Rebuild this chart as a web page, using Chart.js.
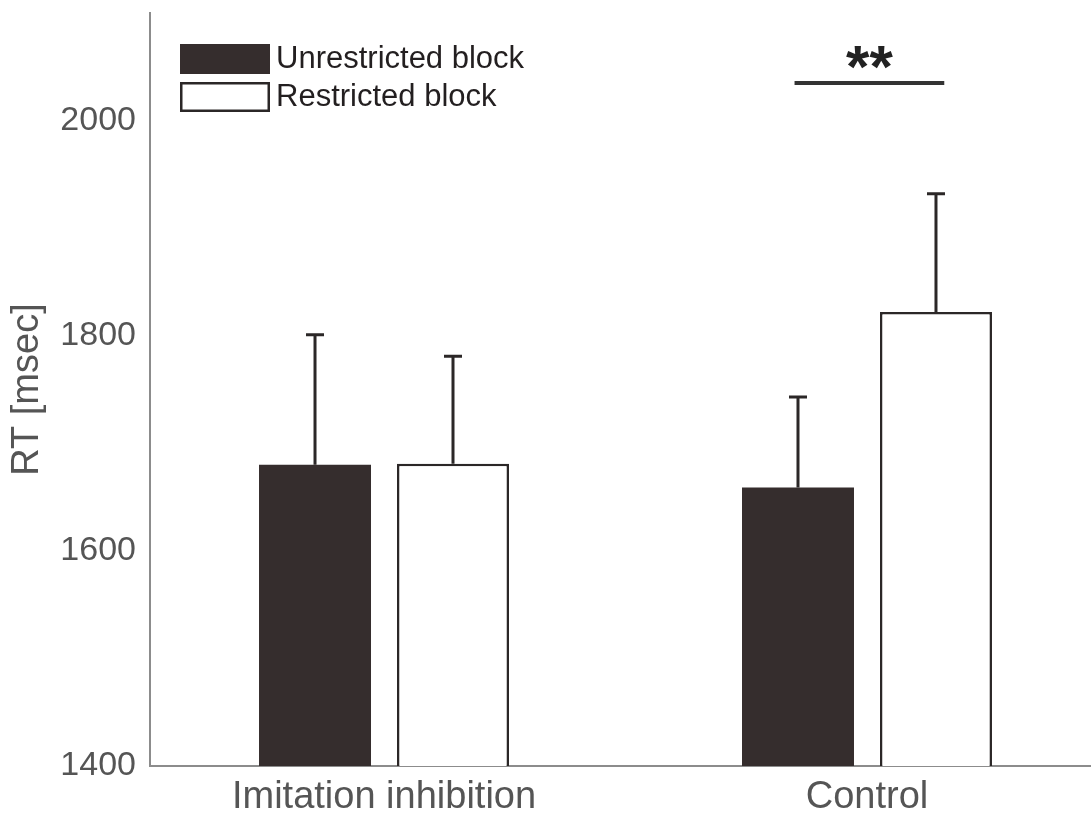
<!DOCTYPE html>
<html>
<head>
<meta charset="utf-8">
<script src="https://cdn.jsdelivr.net/npm/chart.js@4.4.1/dist/chart.umd.min.js"></script>
<style>
  html, body { margin: 0; padding: 0; background: #fff; }
  .chart-wrap { width: 1091px; height: 815px; }
</style>
</head>
<body>
<div class="chart-wrap"><canvas id="rtChart" width="1091" height="815"></canvas></div>
<script>
const categories = ['Imitation inhibition', 'Control'];
const seriesNames = ['Unrestricted block', 'Restricted block'];
const unrestrictedRT = [1680, 1659];
const unrestrictedErr = [121, 84];
const restrictedRT = [1681, 1822];
const restrictedErr = [100, 110];
const yTicks = [1400, 1600, 1800, 2000];
// significance marker over the Control pair
const sigSpan = [0.85, 1.16];
const sigLevel = 2035;
const sigLabel = '**';

const FONT = "'Liberation Sans', Arial, sans-serif";
const DARK = '#352d2d';
const INK = '#2b2727';

const errors = [unrestrictedErr, restrictedErr];

const toPoints = (values) => values.map((y, i) => ({ x: i, y }));

// upward error bars (mean + SE)
const errorBars = {
    id: 'errorBars',
    afterDatasetsDraw(chart) {
        const { ctx } = chart;
        const yScale = chart.scales.y;
        chart.data.datasets.forEach((ds, di) => {
            const meta = chart.getDatasetMeta(di);
            meta.data.forEach((bar, i) => {
                const top = yScale.getPixelForValue(ds.data[i].y + errors[di][i]);
                ctx.save();
                ctx.strokeStyle = INK;
                ctx.lineWidth = 3;
                ctx.beginPath();
                ctx.moveTo(bar.x, bar.y);
                ctx.lineTo(bar.x, top);
                ctx.moveTo(bar.x - 9, top);
                ctx.lineTo(bar.x + 9, top);
                ctx.stroke();
                ctx.restore();
            });
        });
    },
};

const significance = {
    id: 'significance',
    afterDraw(chart) {
        const { ctx } = chart;
        const x1 = chart.scales.x.getPixelForValue(sigSpan[0]);
        const x2 = chart.scales.x.getPixelForValue(sigSpan[1]);
        const y = chart.scales.y.getPixelForValue(sigLevel);
        ctx.save();
        ctx.strokeStyle = '#333';
        ctx.lineWidth = 4;
        ctx.beginPath();
        ctx.moveTo(x1, y);
        ctx.lineTo(x2, y);
        ctx.stroke();
        ctx.fillStyle = '#222';
        ctx.font = 'bold 60px ' + FONT;
        ctx.textAlign = 'center';
        ctx.textBaseline = 'alphabetic';
        ctx.fillText(sigLabel, (x1 + x2) / 2, y + 4);
        ctx.restore();
    },
};

// boxed legend in the top-left corner of the plot
const boxLegend = {
    id: 'boxLegend',
    afterDraw(chart) {
        const { ctx, chartArea } = chart;
        const left = chartArea.left + 30;
        const top = chartArea.top + 31;
        chart.data.datasets.forEach((ds, i) => {
            const y = top + i * 38;
            ctx.save();
            ctx.fillStyle = ds.backgroundColor;
            ctx.fillRect(left, y, 90, 30);
            if (ds.backgroundColor === '#ffffff') {
                ctx.strokeStyle = ds.borderColor;
                ctx.lineWidth = 2.5;
                ctx.strokeRect(left + 1.25, y + 1.25, 87.5, 27.5);
            }
            ctx.fillStyle = '#231f20';
            ctx.font = '31px ' + FONT;
            ctx.textBaseline = 'middle';
            ctx.textAlign = 'left';
            ctx.fillText(ds.label, left + 96, y + 15);
            ctx.restore();
        });
    },
};

const ctx = document.getElementById('rtChart').getContext('2d');

new Chart(ctx, {
    type: 'bar',
    data: {
        datasets: [
            {
                label: seriesNames[0],
                data: toPoints(unrestrictedRT),
                backgroundColor: DARK,
                borderWidth: 0,
            }, {
                label: seriesNames[1],
                data: toPoints(restrictedRT),
                backgroundColor: '#ffffff',
                borderColor: INK,
                borderWidth: 2.5,
                borderSkipped: false,
            },
        ],
    },
    options: {
        responsive: false,
        animation: false,
        categoryPercentage: 0.5714,
        barPercentage: 0.8116,
        layout: {
            autoPadding: false,
            padding: { top: 13, right: 0, bottom: 0, left: 0 },
        },
        plugins: {
            legend: { display: false },
            tooltip: { enabled: false },
        },
        scales: {
            x: {
                type: 'linear',
                offset: false,
                min: -0.4845,
                max: 1.4638,
                afterBuildTicks: (scale) => {
                    scale.ticks = categories.map((c, i) => ({ value: i }));
                },
                afterFit: (scale) => {
                    scale.height = 49;
                    scale.paddingLeft = 0;
                    scale.paddingRight = 0;
                },
                grid: { display: false, drawTicks: false },
                border: { display: true, color: '#8c8c8c', width: 2 },
                ticks: {
                    callback: (value) => categories[value],
                    autoSkip: false,
                    maxRotation: 0,
                    padding: 9,
                    color: '#555',
                    font: { family: FONT, size: 38 },
                },
            },
            y: {
                min: 1400,
                max: 2100,
                afterBuildTicks: (scale) => {
                    scale.ticks = yTicks.map((v) => ({ value: v }));
                },
                afterFit: (scale) => {
                    scale.width = 150;
                    scale.paddingTop = 0;
                    scale.paddingBottom = 0;
                },
                grid: { display: false, drawTicks: false },
                border: { display: true, color: '#8c8c8c', width: 2 },
                ticks: {
                    callback: (value) => String(value),
                    padding: 14,
                    color: '#555',
                    font: { family: FONT, size: 34 },
                },
                title: {
                    display: true,
                    text: 'RT [msec]',
                    color: '#555',
                    padding: { top: 5 },
                    font: { family: FONT, size: 38 },
                },
            },
        },
    },
    plugins: [errorBars, significance, boxLegend],
});
</script>
</body>
</html>
